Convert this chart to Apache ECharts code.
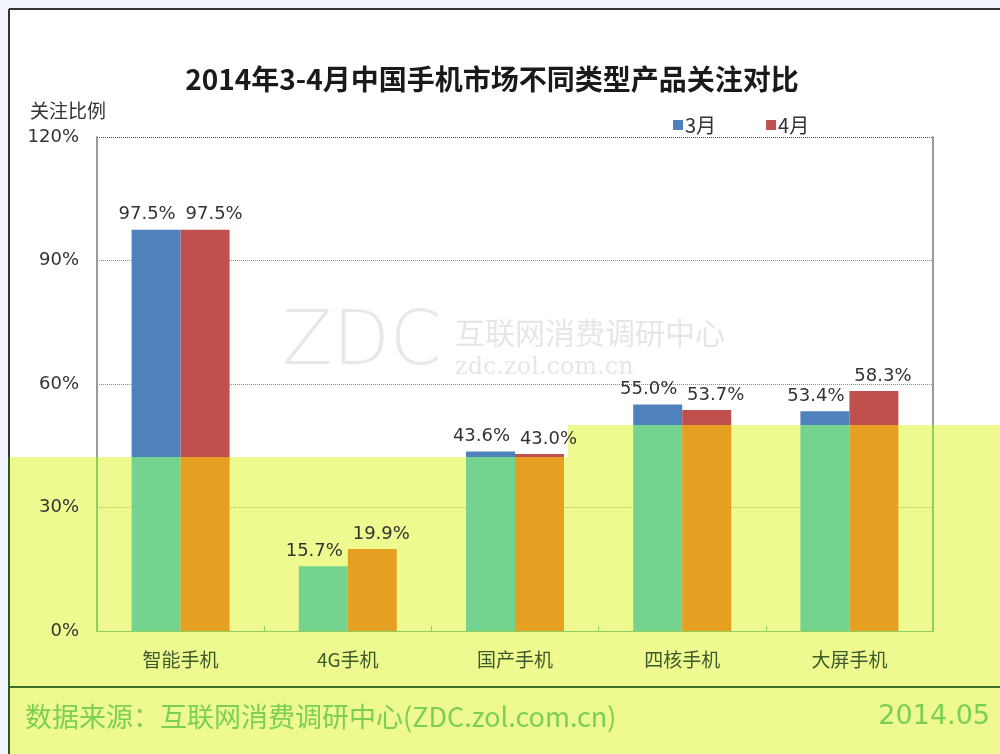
<!DOCTYPE html>
<html>
<head>
<meta charset="utf-8">
<script src="https://cdn.jsdelivr.net/npm/echarts@6/dist/echarts.min.js"></script>
<style>
  html, body { margin: 0; padding: 0; background: #f2f5fb; }
  #main { width: 1000px; height: 754px; }
</style>
</head>
<body>
<div id="main"></div>
<script>
// 数据
const categories = ['智能手机', '4G手机', '国产手机', '四核手机', '大屏手机']
const seriesNames = ['3月', '4月']
const march = [97.5, 15.7, 43.6, 55.0, 53.4]
const april = [97.5, 19.9, 43.0, 53.7, 58.3]

const H = 754
const blue = '#4f81bd', red = '#c0504d'
const green = '#74d38f', orange = '#e5a021'
const yellow = '#eef98f'
// 黄色区域上沿（左半 / 右半）
const splitLeft = 457, splitRight = 425
const splitAt = [splitLeft, splitLeft, splitLeft, splitRight, splitRight]

// 全局像素坐标的硬边渐变，上半原色、下半变色
function cut(top, bottom, y) {
  return {
    type: 'linear', x: 0, y: 0, x2: 0, y2: H, global: true,
    colorStops: [
      { offset: 0, color: top },
      { offset: y / H, color: top },
      { offset: y / H, color: bottom },
      { offset: 1, color: bottom }
    ]
  }
}

const chart = echarts.init(document.querySelector('#main'))

const labelFont = { fontSize: 18, fontFamily: 'DejaVu Sans', color: '#333' }

const option = {
  backgroundColor: '#f2f5fb',
  animation: false,
  title: {
    text: '2014年3-4月中国手机市场不同类型产品关注对比',
    left: 487,
    top: 60,
    textAlign: 'center',
    textStyle: {
      fontFamily: 'Noto Sans CJK SC',
      fontSize: 28,
      fontWeight: 'bold',
      color: '#1a1a1a'
    }
  },
  legend: {
    data: seriesNames,
    left: 668,
    top: 110,
    icon: 'rect',
    itemWidth: 10,
    itemHeight: 10,
    itemGap: 50,
    textStyle: { fontSize: 20, fontFamily: 'Noto Sans CJK SC', color: '#333', padding: [0, 0, 0, -3] }
  },
  grid: { left: 97, right: 67, top: 137, bottom: 123 },
  xAxis: {
    type: 'category',
    data: categories,
    axisLine: { lineStyle: { color: '#8fcf5e', width: 1 } },
    axisTick: { show: true, inside: true, length: 5, lineStyle: { color: '#8fcf5e' } },
    axisLabel: {
      margin: 19,
      fontSize: 19,
      fontFamily: 'Noto Sans CJK SC',
      color: '#3d5a2c'
    },
    splitLine: { show: false }
  },
  yAxis: [
    {
      type: 'value',
      min: 0,
      max: 120,
      interval: 30,
      axisLine: { show: true, lineStyle: { color: cut('#9a9a9a', '#8fcf5e', splitLeft), width: 2 } },
      axisTick: { show: false },
      axisLabel: {
        formatter: '{value}%',
        margin: 18,
        fontSize: 18,
        fontFamily: 'DejaVu Sans',
        color: function (v) {
          return v === 0 ? '#7ccf55' : v === 30 ? '#5a8a3a' : '#333'
        }
      },
      splitLine: {
        show: true,
        lineStyle: {
          type: 'dotted',
          width: 1,
          color: ['#8fcf5e', '#8fcf5e', '#8a8a8a', '#8a8a8a', '#555']
        }
      }
    },
    {
      type: 'value',
      position: 'right',
      min: 0,
      max: 120,
      interval: 30,
      axisLine: { show: true, lineStyle: { color: cut('#9a9a9a', '#8fcf5e', splitRight), width: 2 } },
      axisTick: { show: false },
      axisLabel: { show: false },
      splitLine: { show: false }
    }
  ],
  graphic: [
    // 外框内白底
    { type: 'rect', z: -20, shape: { x: 9, y: 9, width: 991, height: 745 }, style: { fill: '#fff' } },
    // 黄色区域
    {
      type: 'polygon', z: -19,
      shape: { points: [[10, splitLeft], [568, splitLeft], [568, splitRight], [1000, splitRight], [1000, H], [10, H]] },
      style: { fill: yellow }
    },
    // 外框线
    { type: 'line', z: -18, shape: { x1: 9, y1: 9, x2: 1000, y2: 9 }, style: { stroke: '#333', lineWidth: 2 } },
    { type: 'line', z: -18, shape: { x1: 9, y1: 9, x2: 9, y2: splitLeft }, style: { stroke: '#333', lineWidth: 2 } },
    { type: 'line', z: -18, shape: { x1: 9, y1: splitLeft, x2: 9, y2: H }, style: { stroke: '#2f5a1f', lineWidth: 2 } },
    // 水印
    { type: 'text', z: -15, left: 282, top: 308, style: { text: 'ZDC', fontSize: 74, fontFamily: 'DejaVu Sans', fontWeight: 200, fill: '#e8e8e8' } },
    { type: 'text', z: -15, left: 455, top: 318, style: { text: '互联网消费调研中心', fontSize: 30, fontFamily: 'Noto Sans CJK SC', fill: '#e6e6e6' } },
    { type: 'text', z: -15, left: 455, top: 356, style: { text: 'zdc.zol.com.cn', fontSize: 24, fontFamily: 'DejaVu Serif', fill: '#e6e6e6' } },
    // Y轴名称
    { type: 'text', left: 30, top: 101, style: { text: '关注比例', fontSize: 19, fontFamily: 'Noto Sans CJK SC', fill: '#333' } },
    // 底部分隔线与来源
    { type: 'line', shape: { x1: 10, y1: 687, x2: 1000, y2: 687 }, style: { stroke: '#3d6b2a', lineWidth: 2 } },
    {
      type: 'text', left: 25, top: 703,
      style: { text: '数据来源：互联网消费调研中心(ZDC.zol.com.cn)', fontSize: 27, fontFamily: 'Noto Sans CJK SC', fill: '#7ccf55' }
    },
    {
      type: 'text', right: 10, top: 703,
      style: { text: '2014.05', fontSize: 27, fontFamily: 'DejaVu Sans', fill: '#7ccf55' }
    }
  ],
  series: [
    {
      name: seriesNames[0],
      type: 'bar',
      barWidth: 49,
      barGap: '0%',
      itemStyle: { color: blue },
      label: { show: true, position: 'top', distance: 6, offset: [-9, 0], formatter: p => p.value.toFixed(1) + '%', ...labelFont },
      data: march.map((v, i) => ({ value: v, itemStyle: { color: cut(blue, green, splitAt[i]) } }))
    },
    {
      name: seriesNames[1],
      type: 'bar',
      barWidth: 49,
      barGap: '0%',
      itemStyle: { color: red },
      label: { show: true, position: 'top', distance: 6, offset: [9, 0], formatter: p => p.value.toFixed(1) + '%', ...labelFont },
      data: april.map((v, i) => ({ value: v, itemStyle: { color: cut(red, orange, splitAt[i]) } }))
    }
  ]
}

chart.setOption(option)
</script>
</body>
</html>
